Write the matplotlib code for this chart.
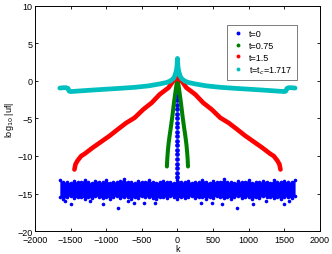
import matplotlib
matplotlib.use('Agg')
import matplotlib.pyplot as plt
from matplotlib.lines import Line2D
import numpy as np

plt.rcParams['font.family'] = ['Liberation Sans', 'DejaVu Sans']

labels = ('t=0', 't=0.75', 't=1.5', 't=t$_c$=1.717')
colors = ('#0000ff', '#008000', '#ff0000', '#00bfbf')

# t=0 : noisy floor (upper / lower edge of the band, k step 50 from -1650)
blue_k = np.arange(-1650, 1651, 50)
blue_top = [-13.2, -13.5, -13.4, -13.6, -13.3, -13.5, -13.4, -13.2, -13.5, -13.6,
            -13.3, -13.4, -13.5, -13.2, -13.6, -13.4, -13.5, -13.3, -13.1, -13.5,
            -13.4, -13.6, -13.3, -13.5, -13.4, -13.2, -13.5, -13.6, -13.4, -13.3,
            -13.5, -13.4, -13.6, -13.2, -13.4, -13.5, -13.3, -13.6, -13.4, -13.5,
            -13.2, -13.4, -13.6, -13.3, -13.5, -13.4, -13.1, -13.5, -13.4, -13.6,
            -13.3, -13.5, -13.4, -13.2, -13.6, -13.4, -13.5, -13.3, -13.4, -13.6,
            -13.2, -13.5, -13.4, -13.3, -13.5, -13.4, -13.2]
blue_bot = [-15.4, -15.7, -15.5, -15.3, -15.6, -15.5, -15.4, -15.7, -15.5, -15.6,
            -15.3, -15.5, -15.6, -15.4, -15.7, -15.5, -15.3, -15.6, -15.5, -15.4,
            -15.7, -15.5, -15.6, -15.3, -15.5, -15.4, -15.6, -15.7, -15.5, -15.4,
            -15.6, -15.3, -15.5, -15.7, -15.4, -15.6, -15.5, -15.3, -15.6, -15.5,
            -15.4, -15.7, -15.5, -15.6, -15.3, -15.5, -15.6, -15.4, -15.7, -15.5,
            -15.3, -15.6, -15.5, -15.4, -15.7, -15.5, -15.6, -15.3, -15.5, -15.4,
            -15.6, -15.5, -15.7, -15.4, -15.5, -15.6, -15.3]
# stray points below the band
out_k = [-1580, -1500, -1227, -1048, -828, -700, -616, -475, -310,
         324, 489, 630, 842, 1053, 1241, 1500, 1570]
out_y = [-16.0, -16.4, -16.0, -16.4, -16.9, -16.0, -16.2, -16.3, -16.3,
         -16.3, -16.2, -16.4, -16.9, -16.4, -16.0, -16.4, -16.0]
# spike of t=0 at k=0
spike_y = [-0.8, -1.4, -2.0, -2.6, -3.2, -3.8, -4.4, -5.0, -5.6, -6.2, -6.8,
           -7.4, -8.0, -8.6, -9.2, -9.8, -10.4, -11.0, -11.6, -12.2, -12.8]

# t=0.75 (symmetric in k)
green_k = [0, 15, 30, 50, 70, 90, 110, 125, 135, 143, 148]
green_y = [0.4, -0.6, -1.6, -3.0, -4.6, -6.0, -7.3, -8.4, -9.4, -10.4, -11.4]

# t=1.5
red_k = [0, 60, 125, 250, 360, 480, 600, 720, 830, 950, 1070, 1190, 1300,
         1350, 1400, 1430, 1445]
red_y = [0.4, 0.0, -0.9, -1.8, -2.9, -3.8, -4.9, -5.6, -6.4, -7.3, -8.1, -8.9,
         -9.7, -10.0, -10.6, -11.1, -11.8]

# t=tc
cyan_k = [0, 5, 10, 20, 40, 60, 100, 150, 250, 400, 600, 800, 1000, 1200, 1400,
          1500, 1520, 1535, 1560, 1600, 1650]
cyan_y = [3.0, 2.2, 1.7, 1.2, 0.6, 0.3, 0.0, -0.2, -0.4, -0.65, -0.85, -0.98,
          -1.1, -1.22, -1.35, -1.42, -1.35, -1.0, -0.9, -0.9, -0.95]


def mirror(k, y):
    k = np.asarray(k, float)
    y = np.asarray(y, float)
    return np.concatenate([-k[::-1], k[1:]]), np.concatenate([y[::-1], y[1:]])


fig = plt.figure(figsize=(3.32, 2.55), dpi=100)
ax = fig.add_axes([0.105, 0.090, 0.859, 0.883])

# t=0
ax.fill_between(blue_k, blue_bot, blue_top, color=colors[0], lw=0)
ax.plot(blue_k, blue_top, 'o', color=colors[0], ms=2.6, mew=0)
ax.plot(blue_k, blue_bot, 'o', color=colors[0], ms=2.6, mew=0)
ax.plot(out_k, out_y, 'o', color=colors[0], ms=2.6, mew=0)
ax.plot(np.zeros(len(spike_y)), spike_y, 'o', color=colors[0], ms=3.4, mew=0)

gk, gy = mirror(green_k, green_y)
ax.plot(gk, gy, '-', color=colors[1], lw=2.9, solid_capstyle='round',
        solid_joinstyle='round')
rk, ry = mirror(red_k, red_y)
ax.plot(rk, ry, '-', color=colors[2], lw=3.3, solid_capstyle='round',
        solid_joinstyle='round')
ck, cy = mirror(cyan_k, cyan_y)
ax.plot(ck, cy, '-', color=colors[3], lw=3.4, solid_capstyle='round',
        solid_joinstyle='round')

ax.set_xlim(-2000, 2000)
ax.set_ylim(-20, 10)
ax.set_xticks(np.arange(-2000, 2001, 500))
ax.set_yticks(np.arange(-20, 11, 5))
ax.tick_params(direction='in', length=2.5, width=0.6, labelsize=6.5,
               top=True, right=True)
ax.tick_params(axis='x', pad=3.2)
ax.tick_params(axis='y', pad=1.5)
for s in ax.spines.values():
    s.set_linewidth(0.7)

ax.set_xlabel('k', fontsize=6.5, labelpad=0)
ax.set_ylabel('log$_{10}$ |uf|', fontsize=6.5, labelpad=1)

handles = [Line2D([], [], ls='', marker='o', ms=2.8, mew=0, color=c)
           for c in colors]
leg = ax.legend(handles, labels, loc='upper right',
                bbox_to_anchor=(0.918, 0.917), borderaxespad=0, fontsize=6.5,
                frameon=True, fancybox=False, handlelength=1.4,
                handletextpad=0.5, labelspacing=0.3, borderpad=0.5)
leg.get_frame().set_edgecolor('#404040')
leg.get_frame().set_linewidth(0.6)

plt.savefig('out.png', dpi=100)
